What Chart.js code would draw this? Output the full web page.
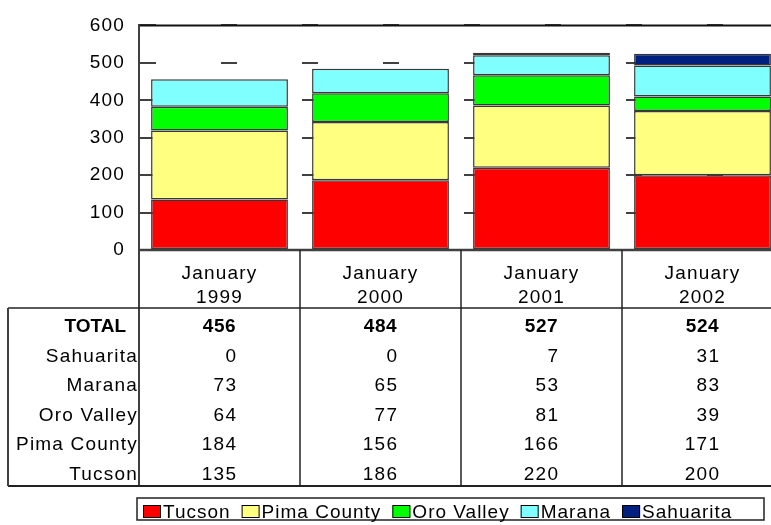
<!DOCTYPE html>
<html>
<head>
<meta charset="utf-8">
<title>January counts by jurisdiction</title>
<script src="https://cdn.jsdelivr.net/npm/chart.js@4.4.1/dist/chart.umd.min.js"></script>
<style>
  html, body { margin: 0; padding: 0; background: #fff; overflow: hidden; }
  canvas { display: block; }
</style>
</head>
<body>
<canvas id="chart" width="784" height="525"></canvas>
<script>
// categories (two-line labels) and the five stacked series
const months = [["January", "1999"], ["January", "2000"], ["January", "2001"], ["January", "2002"]];
const tucson = [135, 186, 220, 200];
const pimaCounty = [184, 156, 166, 171];
const oroValley = [64, 77, 81, 39];
const marana = [73, 65, 53, 83];
const sahuarita = [0, 0, 7, 31];
const yTicks = [0, 100, 200, 300, 400, 500, 600];

const FONT = '"Liberation Sans", Arial, sans-serif';
const SIZE = 19;
const LINE = "#222";
const AXIS = "#404040";

// totals row is the sum of every series for that month
const totals = months.map((m, i) => tucson[i] + pimaCounty[i] + oroValley[i] + marana[i] + sahuarita[i]);

// rows of the data table, top to bottom
const tableRows = [
  { label: "Sahuarita", values: sahuarita },
  { label: "Marana", values: marana },
  { label: "Oro Valley", values: oroValley },
  { label: "Pima County", values: pimaCounty },
  { label: "Tucson", values: tucson }
];

// draws the frame, the data table under the plot and the boxed legend
const dataTable = {
  id: "dataTable",
  beforeDraw(chart) {
    chart.ctx.letterSpacing = "1.2px";
  },
  afterDatasetsDraw(chart) {
    const { ctx, scales: { x, y } } = chart;
    const top = y.getPixelForValue(yTicks[yTicks.length - 1]);
    const base = y.getPixelForValue(0);
    const colW = x.width / months.length;
    const headerBottom = 308;
    const rowH = 29.6;
    const tableBottom = 486;
    const tableLeft = 8;

    ctx.save();
    const line = (x1, y1, x2, y2, color, w) => {
      ctx.beginPath();
      ctx.strokeStyle = color;
      ctx.lineWidth = w;
      ctx.moveTo(x1, y1);
      ctx.lineTo(x2, y2);
      ctx.stroke();
    };

    // plot frame
    line(x.left, top, x.right, top, "#111", 2);
    line(x.left, base, x.right, base, AXIS, 2.5);
    line(x.left, top - 1, x.left, tableBottom, AXIS, 2);

    // table grid
    for (let i = 1; i <= months.length; i++) {
      const cx = Math.round(x.left + i * colW);
      line(cx, base, cx, tableBottom, LINE, 1.5);
    }
    line(tableLeft, headerBottom, x.right, headerBottom, LINE, 1.5);
    line(tableLeft, tableBottom, x.right, tableBottom, LINE, 2);
    line(tableLeft, headerBottom, tableLeft, tableBottom, AXIS, 2);

    // header labels
    ctx.fillStyle = "#000";
    ctx.font = `${SIZE}px ${FONT}`;
    ctx.textAlign = "center";
    ctx.textBaseline = "alphabetic";
    months.forEach((m, i) => {
      const cx = x.getPixelForValue(i);
      ctx.fillText(m[0], cx, 278.5);
      ctx.fillText(m[1], cx, 303);
    });

    // totals row
    ctx.font = `bold ${SIZE}px ${FONT}`;
    ctx.letterSpacing = "0px";
    ctx.textAlign = "right";
    ctx.fillText("TOTAL", 126, 332);
    ctx.letterSpacing = "0.6px";
    const halfNum = ctx.measureText("000").width / 2;
    totals.forEach((v, i) => {
      ctx.fillText(String(v), x.getPixelForValue(i) + halfNum, 332);
    });

    // series rows
    ctx.font = `${SIZE}px ${FONT}`;
    ctx.letterSpacing = "1.2px";
    const half = ctx.measureText("000").width / 2;
    tableRows.forEach((row, r) => {
      const by = 332 + (r + 1) * rowH;
      ctx.fillText(row.label, 138, by);
      row.values.forEach((v, i) => {
        ctx.fillText(String(v), x.getPixelForValue(i) + half, by);
      });
    });

    // legend box
    const lx = 137, ly = 498, lw = 627, lh = 22;
    ctx.strokeStyle = LINE;
    ctx.lineWidth = 1.5;
    ctx.strokeRect(lx, ly, lw, lh);
    ctx.textAlign = "left";
    ctx.letterSpacing = "1px";
    let px = lx + 6;
    chart.data.datasets.forEach(ds => {
      ctx.fillStyle = ds.backgroundColor;
      ctx.fillRect(px, 505.5, 18, 12);
      ctx.strokeStyle = "#000";
      ctx.lineWidth = 1;
      ctx.strokeRect(px + 0.5, 505.5, 17, 12);
      ctx.fillStyle = "#000";
      ctx.fillText(ds.label, px + 20, 517.5);
      px += 20 + ctx.measureText(ds.label).width + 11;
    });
    ctx.restore();
  }
};

const bar = (label, data, color) => ({
  label,
  data,
  backgroundColor: color,
  borderColor: "#383838",
  borderWidth: 1.5,
  borderSkipped: false,
  barPercentage: 0.85,
  categoryPercentage: 1.0
});

new Chart(document.getElementById("chart"), {
  type: "bar",
  data: {
    labels: months,
    datasets: [
      bar("Tucson", tucson, "#FF0000"),
      bar("Pima County", pimaCounty, "#FFFF80"),
      bar("Oro Valley", oroValley, "#00FF00"),
      bar("Marana", marana, "#80FFFF"),
      bar("Sahuarita", sahuarita, "#002080")
    ]
  },
  options: {
    responsive: false,
    animation: false,
    devicePixelRatio: 1,
    layout: { padding: { top: 16, bottom: 275, left: 0, right: 1 } },
    plugins: {
      legend: { display: false },
      tooltip: { enabled: false }
    },
    scales: {
      x: {
        display: false,
        stacked: true
      },
      y: {
        stacked: true,
        min: 0,
        max: 600,
        afterFit: scale => { scale.width = 139; },
        afterBuildTicks: scale => { scale.ticks = yTicks.map(v => ({ value: v })); },
        ticks: {
          color: "#000",
          padding: 14,
          font: { family: FONT, size: SIZE }
        },
        grid: {
          color: AXIS,
          lineWidth: 2,
          drawTicks: false
        },
        border: {
          display: true,
          color: AXIS,
          width: 2,
          dash: [16, 65]
        }
      }
    }
  },
  plugins: [dataTable]
});
</script>
</body>
</html>
